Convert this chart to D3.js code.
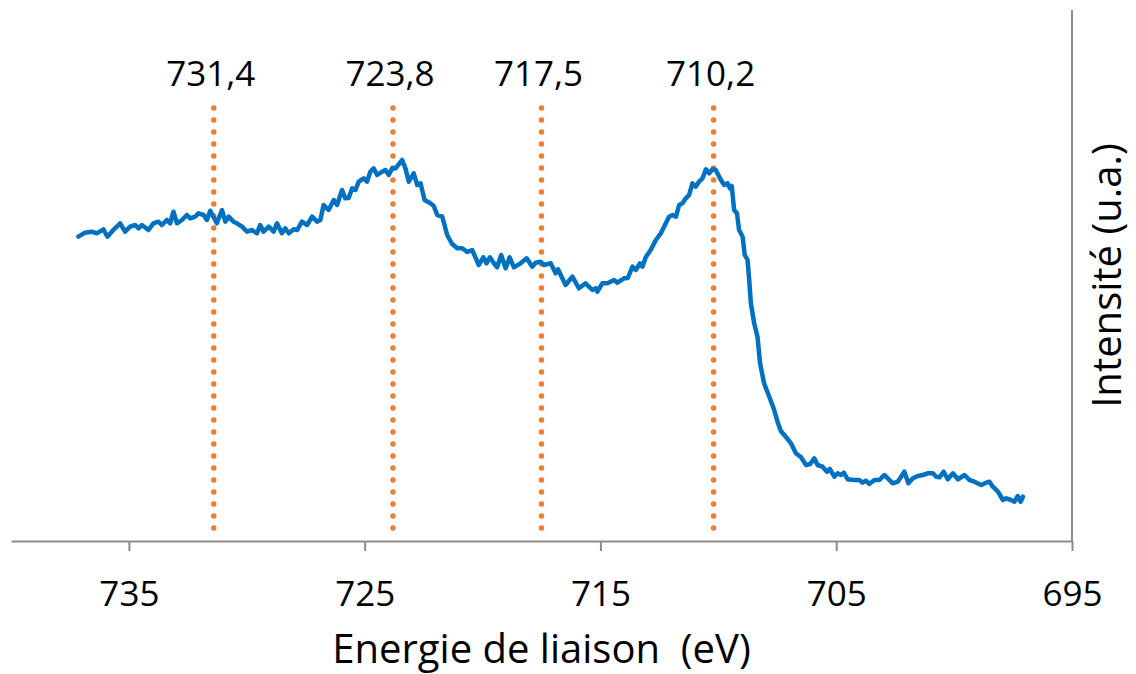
<!DOCTYPE html>
<html>
<head>
<meta charset="utf-8">
<script src="https://cdn.jsdelivr.net/npm/d3@7"></script>
<style>
  html, body { margin: 0; padding: 0; background: #fff; }
  svg { display: block; }
  text { font-family: "Open Sans", "Noto Sans", sans-serif; fill: #000; }
</style>
</head>
<body>
<svg id="chart" width="1136" height="674"></svg>
<script>
// Binding energy (eV) of each traced point of the spectrum
const energies = [
  737.14,736.86,736.57,736.36,736.08,735.91,735.66,735.37,735.16,734.95,734.73,734.59,734.45,734.17,733.96,733.75,733.60,733.39,733.25,733.11,
  732.96,732.75,732.54,732.40,732.19,732.05,731.83,731.69,731.55,731.27,731.05,730.91,730.77,730.56,730.42,730.20,729.99,729.78,729.57,729.43,
  729.29,729.07,728.86,728.72,728.51,
  728.37,728.22,728.01,727.86,727.66,727.44,727.23,727.02,726.88,726.74,726.53,726.31,726.17,725.96,725.82,725.68,725.53,725.39,725.25,725.04,
  724.90,724.76,724.62,724.47,724.26,724.12,723.98,723.83,723.69,723.41,723.27,723.13,722.92,722.77,722.63,722.46,722.21,722.07,721.92,721.71,
  721.50,721.29,721.07,720.86,720.65,
  720.44,720.16,719.97,719.83,719.69,719.52,719.38,719.21,719.02,718.85,718.67,718.39,718.13,717.89,717.75,717.54,717.40,717.11,716.90,716.80,
  716.48,716.19,715.91,715.63,715.34,715.20,715.13,714.92,714.70,714.42,714.28,714.00,713.84,713.64,713.50,713.32,713.22,713.08,712.87,712.65,
  712.44,712.30,712.09,
  711.94,711.80,711.66,711.52,711.38,711.24,711.10,710.96,710.82,710.67,710.53,710.39,710.25,710.11,709.89,709.75,709.61,709.51,709.43,709.33,
  709.21,709.12,708.97,708.88,708.76,708.69,708.62,708.48,708.34,708.23,708.06,707.84,707.63,707.49,707.35,707.13,706.92,706.71,706.50,
  706.28,706.10,705.93,705.79,705.58,705.39,705.27,705.08,704.94,704.80,704.68,704.51,704.23,704.02,703.88,703.74,703.60,703.38,703.17,702.96,
  702.81,702.60,702.39,702.11,701.94,701.75,701.54,701.33,701.12,700.90,700.76,700.62,700.44,700.27,700.05,699.84,699.56,699.35,699.14,698.85,
  698.64,698.50,698.36,698.14,697.93,697.79,697.58,697.44,697.30,697.18,697.08
];
// Intensity (arbitrary units) at each energy
const intensities = [
  304.3,308.3,309.3,307.7,311.7,304.3,311,317.7,309.3,314.3,316,312.7,316,311,317.7,319.3,316,321,317.7,329.3,
  317.7,321,326,322.7,324.3,327.7,326,321,330.3,317.7,331,319.3,324.3,319.3,317.7,314.3,309.3,311,307.7,316,
  309.3,314.3,309.3,317.7,307.7,
  312.7,307.7,311.7,311,319.3,316,324.3,319.3,321,336,331,341,336,351,342.7,343,352.7,351,359.3,362.7,
  359.3,369.3,372.7,366,369.3,371,366,372.7,372.7,381,372.7,359.3,367.7,356,357.7,341,337.7,335,326,324.3,
  306,297,292.7,292.7,289,
  291,276,283.7,277.7,283.7,277.7,273.7,286,272.7,283.7,273.7,277.7,282.7,274.3,278.3,279.3,276,277.7,267.7,271.7,
  256,264.3,252.7,257.7,251,252.7,249.3,257.7,257.7,261,258.3,262.7,263,274.3,271,277.7,274.3,283.7,291,301,
  307.7,314.3,324.3,
  326,324.3,336,337.7,342.7,346,357.7,354.3,359.3,362.7,371.7,367.7,371.7,371,361,356,357.7,352.7,355,331,
  327.7,311,304.3,286,281,261,237.7,217.7,204.3,177.7,157.7,144.3,131,119.3,110,104,97.7,87.7,84,
  76,77,82.7,76,74.3,69.3,72,64.3,67.7,66,68.3,61.7,61,61,58.3,60.3,57,61,61,66,
  62.7,57.7,59.3,69.3,57.7,62.7,65,66,67.7,67.7,64.3,63.7,69.3,61.7,67.7,61.7,66,61,59.3,56,
  58.3,59.3,54.3,49.3,41,42.7,41,39.3,45,39.3,44.3
];
// Marked peak positions (eV)
const peaks = [731.4, 723.8, 717.5, 710.2];
// Axis ticks
const xTicks = [735, 725, 715, 705, 695];
const xDomain = [740, 695];
const yDomain = [0, 531];
const xTitle = "Energie de liaison  (eV)";
const yTitle = "Intensité (u.a.)";

const frFormat = d3.formatLocale({decimal: ",", thousands: " ", grouping: [3], currency: ["", " €"]}).format(".1f");

const svg = d3.select("#chart");
const plotL = 11, plotR = 1072, plotT = 10, plotB = 541;
const x = d3.scaleLinear().domain(xDomain).range([plotL, plotR]);
const y = d3.scaleLinear().domain(yDomain).range([plotB, plotT]);

svg.append("rect").attr("width", 1136).attr("height", 674).attr("fill", "#fff");

const axisColor = "#8c8c8c";

// right vertical axis line
svg.append("line")
  .attr("x1", plotR).attr("x2", plotR).attr("y1", plotT).attr("y2", plotB)
  .attr("stroke", axisColor).attr("stroke-width", 2);

// x axis
const xAxis = d3.axisBottom(x).tickValues(xTicks).tickSizeInner(10).tickSizeOuter(0)
  .tickPadding(30).tickFormat(d3.format("d"));
const gx = svg.append("g").attr("transform", `translate(0,${plotB})`).call(xAxis);
gx.select(".domain").attr("stroke", axisColor).attr("stroke-width", 2);
gx.selectAll(".tick line").attr("stroke", axisColor).attr("stroke-width", 2);
gx.selectAll(".tick text")
  .attr("font-family", '"Open Sans", "Noto Sans", sans-serif')
  .attr("font-size", 35).attr("fill", "#000");

// peak dotted lines
svg.append("g").selectAll("line").data(peaks).join("line")
  .attr("x1", d => x(d)).attr("x2", d => x(d))
  .attr("y1", 108).attr("y2", plotB - 3)
  .attr("stroke", "#ED7D31").attr("stroke-width", 5.5)
  .attr("stroke-linecap", "round").attr("stroke-dasharray", "0,12");

// peak labels
svg.append("g").selectAll("text").data(peaks).join("text")
  .attr("x", d => x(d) - 3).attr("y", 86)
  .attr("text-anchor", "middle").attr("font-size", 35)
  .text(d => frFormat(d));

// spectrum line
const pts = energies.map((e, i) => [e, intensities[i]]);
svg.append("path").datum(pts)
  .attr("fill", "none").attr("stroke", "#0070C0").attr("stroke-width", 4.5)
  .attr("stroke-linejoin", "round").attr("stroke-linecap", "round")
  .attr("d", d3.line().x(d => x(d[0])).y(d => y(d[1])));

// axis titles
svg.append("text")
  .attr("x", (plotL + plotR) / 2).attr("y", 663)
  .attr("text-anchor", "middle").attr("font-size", 40)
  .style("white-space", "pre")
  .text(xTitle);

svg.append("text")
  .attr("transform", `translate(1121,${(plotT + plotB) / 2}) rotate(-90)`)
  .attr("text-anchor", "middle").attr("font-size", 40)
  .text(yTitle);
</script>
</body>
</html>
